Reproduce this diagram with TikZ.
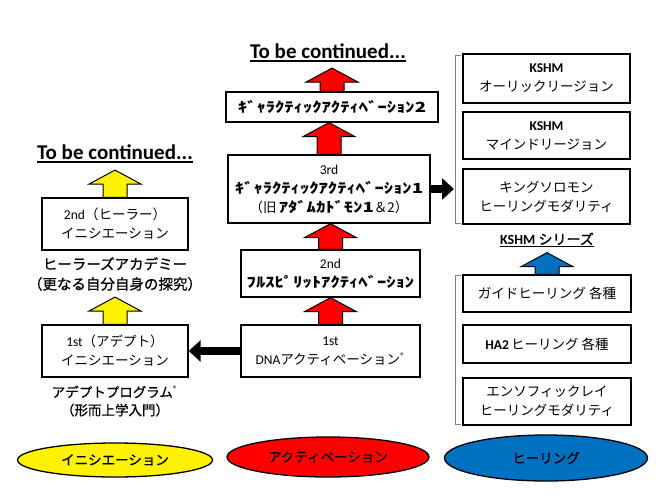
\documentclass[tikz,border=0pt]{standalone}
\usepackage{fontspec}
\setmainfont{Noto Sans CJK JP}
\newfontfamily\latinfont{Carlito}
\newfontfamily\medfont[FakeBold=0.8]{Noto Sans CJK JP}
\newfontfamily\hwfont[FakeStretch=1.33]{Noto Sans CJK JP}
\usetikzlibrary{arrows.meta,calc,shapes.geometric}
\definecolor{healblue}{RGB}{0,112,192}
\newcommand{\hw}{\hwfont\bfseries\fontsize{14}{19}\selectfont}
\newcommand{\ulbar}[1]{\setbox0\hbox{#1}\rlap{\rule[-3pt]{\wd0}{1.5pt}}\box0}
\newcommand{\regmark}{{\latinfont\textsuperscript{®}}}
% block arrow pointing up: colour, lower end, tip
\newcommand{\blockup}[3]{%
  \filldraw[blockarrow,fill=#1] let \p1=(#2), \p2=(#3) in
    (\x1-12pt,\y1) -- (\x1-12pt,\y2-14pt) -- (\x1-26pt,\y2-14pt) -- (\x1,\y2)
    -- (\x1+26pt,\y2-14pt) -- (\x1+12pt,\y2-14pt) -- (\x1+12pt,\y1) -- cycle;}

\begin{document}
\begin{tikzpicture}[x=1pt,y=-1pt,
  box/.style={draw,line width=1.3pt,fill=white,align=center,inner sep=0pt,
    font=\fontsize{13.5}{19}\selectfont},
  caption/.style={align=center,inner sep=1pt,font=\medfont\fontsize{14.5}{20}\selectfont},
  more/.style={inner sep=1pt,font=\latinfont\fontsize{21}{24}\selectfont\bfseries},
  stage/.style={ellipse,draw,line width=1.3pt,inner sep=0pt,
    font=\medfont\fontsize{13.5}{16}\selectfont},
  fatarrow/.style={line width=8pt,-{Triangle[length=12pt,width=21pt]}},
  bracket/.style={draw=gray,line width=0.8pt},
  blockarrow/.style={draw=black,line width=1pt,line join=miter}]

\fill[white] (0,0) rectangle (661,496);
\useasboundingbox (0,0) rectangle (661,496);

% ---------------- Initiation ----------------
\node[more] (tbc1) at (115,154) {\ulbar{To be continued...}};
\node[box,minimum width=146pt,minimum height=52pt] (healer) at (115,224)
  {{\latinfont 2nd}（ヒーラー）\\イニシエーション};
\node[caption] (academy) at (115,274) {ヒーラーズアカデミー\\（更なる自分自身の探究）};
\node[box,minimum width=146pt,minimum height=52pt] (adept) at (115,351)
  {{\latinfont 1st}（アデプト）\\イニシエーション};
\node[caption,font=\medfont\fontsize{13.5}{18}\selectfont] (program) at (115,401)
  {アデプトプログラム\regmark\\（形而上学入門）};
\node[stage,fill=yellow,minimum width=195pt,minimum height=34pt] (init) at (115,460) {イニシエーション};

\blockup{yellow}{healer.north}{$(tbc1.south)+(0,6)$}
\blockup{yellow}{adept.north}{$(academy.south)+(0,5)$}

% ---------------- Activation ----------------
\node[more] (tbc2) at (328,53) {\ulbar{To be continued...}};
\node[box,minimum width=212pt,minimum height=30pt] (gal2) at (332,107)
  {\hw ｷﾞｬﾗｸﾃｨｯｸｱｸﾃｨﾍﾞｰｼｮﾝ2};
\node[box,minimum width=202pt,minimum height=68pt] (gal1) at (329,189)
  {{\latinfont 3rd}\\{\hw ｷﾞｬﾗｸﾃｨｯｸｱｸﾃｨﾍﾞｰｼｮﾝ1}\\（旧\,{\hw ｱﾀﾞﾑｶﾄﾞﾓﾝ1}＆2）};
\node[box,minimum width=179pt,minimum height=47pt] (full) at (330.5,273.5)
  {{\latinfont 2nd}\\{\hw ﾌﾙｽﾋﾟﾘｯﾄｱｸﾃｨﾍﾞｰｼｮﾝ}};
\node[box,minimum width=179pt,minimum height=52pt] (dna) at (330.5,351)
  {{\latinfont 1st}\\{\latinfont DNA}アクティベーション\regmark};
\node[stage,fill=red,minimum width=202pt,minimum height=40pt] (act) at (328,457) {アクティベーション};

\blockup{red}{gal2.north}{$(tbc2.south)+(0,5)$}
\blockup{red}{gal1.north}{gal2.south}
\blockup{red}{full.north}{gal1.south}
\blockup{red}{dna.north}{full.south}

\draw[fatarrow] (dna.west) -- (adept.east);

% ---------------- Healing ----------------
\node[box,minimum width=167pt,minimum height=49pt] (aur) at (546.5,78.5)
  {{\latinfont\bfseries KSHM}\\オーリックリージョン};
\node[box,minimum width=167pt,minimum height=47pt] (mind) at (546.5,135.5)
  {{\latinfont\bfseries KSHM}\\マインドリージョン};
\node[box,minimum width=167pt,minimum height=55pt] (king) at (546.5,196.5)
  {キングソロモン\\ヒーリングモダリティ};
\node[caption,font=\medfont\fontsize{14}{18}\selectfont] (series) at (547,240)
  {\ulbar{{\latinfont\bfseries KSHM} シリーズ}};
\node[box,minimum width=168pt,minimum height=37pt] (guide) at (547,293.5) {ガイドヒーリング 各種};
\node[box,minimum width=168pt,minimum height=38pt] (ha2) at (547,344)
  {{\latinfont\bfseries HA2}\,ヒーリング 各種};
\node[box,minimum width=168pt,minimum height=47pt] (enso) at (547,401.5)
  {エンソフィックレイ\\ヒーリングモダリティ};
\node[stage,fill=healblue,minimum width=203pt,minimum height=46pt] (healing) at (546,458) {ヒーリング};

\draw[bracket] (461,55) -- (455,55) -- (455,223) -- (461,223);
\draw[bracket] (461,275) -- (455,275) -- (455,424) -- (461,424);
\coordinate (kshm) at (454,189);

\blockup{healblue}{guide.north}{$(series.south)+(0,4)$}
\draw[fatarrow] (gal1.east) -- (gal1.east -| kshm);

\end{tikzpicture}
\end{document}
